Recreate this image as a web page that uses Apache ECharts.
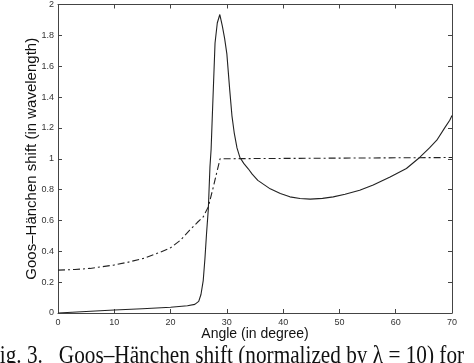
<!DOCTYPE html>
<html><head><meta charset="utf-8">
<script src="https://cdn.jsdelivr.net/npm/echarts@6/dist/echarts.min.js"></script>
<style>html,body{margin:0;padding:0;background:#fff}#c{width:474px;height:363px}</style>
</head><body><div id="c"></div>
<script>
const xTicks = [0,10,20,30,40,50,60,70];
const yTicks = [0,0.2,0.4,0.6,0.8,1,1.2,1.4,1.6,1.8,2];
const solidAngle = [0,5,10,15,20,23,24.3,25,25.4,25.8,26.1,26.4,26.7,27,27.2,27.4,27.9,28.3,28.75,29.2,29.6,30,30.5,30.9,31.3,31.8,32.3,33,33.8,34.5,35.5,37.7,39.5,41.2,43,44.8,47,48.9,51,53.6,56,59,61.9,64.3,66,67.3,68.7,69.6,70];
const solidShift = [0,0.01,0.019,0.028,0.037,0.047,0.056,0.075,0.12,0.21,0.35,0.52,0.67,0.95,1.06,1.26,1.75,1.88,1.935,1.86,1.78,1.68,1.45,1.28,1.17,1.07,1.01,0.97,0.935,0.9,0.86,0.805,0.775,0.753,0.742,0.738,0.743,0.753,0.77,0.796,0.83,0.882,0.937,1.01,1.07,1.12,1.2,1.25,1.28];
const dashAngle = [0,3,5.7,9.8,12.5,15.2,17.5,19.9,21.7,23.4,24.7,25.8,26.7,27.6,28.2,28.8,29,70];
const dashShift = [0.278,0.282,0.289,0.31,0.33,0.354,0.385,0.42,0.47,0.537,0.585,0.623,0.688,0.817,0.91,1.0,1.008,1.008];
const xName = 'Angle (in degree)';
const yName = 'Goos–Hänchen shift (in wavelength)';
const caption = 'Fig. 3.   Goos–Hänchen shift (normalized by λ = 10) for';

const zip = (a,b) => a.map((v,i)=>[v,b[i]]);
const frame = '#444';
const sans = 'Liberation Sans, Arial, sans-serif';
const lbl = {fontFamily:sans, fontSize:9, color:'#333'};
function xa(pos, show){
  return {type:'value', position:pos, min:0, max:70, interval:10,
    axisLine:{show:true, onZero:false, lineStyle:{color:frame,width:1}},
    axisTick:{show:true, inside:true, length:4, lineStyle:{color:frame}},
    axisLabel:Object.assign({show:show, margin:5}, lbl),
    splitLine:{show:false},
    name: show ? xName : '', nameLocation:'middle', nameGap:14, nameMoveOverlap:false,
    nameTextStyle:{fontFamily:sans, fontSize:14, color:'#111', verticalAlign:'top'}};
}
function ya(pos, show){
  return {type:'value', position:pos, min:0, max:2, interval:0.2,
    axisLine:{show:true, onZero:false, lineStyle:{color:frame,width:1}},
    axisTick:{show:true, inside:true, length:4, lineStyle:{color:frame}},
    axisLabel:Object.assign({show:show, margin:4, formatter:v=>String(+v.toFixed(1))}, lbl),
    splitLine:{show:false},
    name: show ? yName : '', nameLocation:'middle', nameGap:19, nameMoveOverlap:false,
    nameTextStyle:{fontFamily:sans, fontSize:15, color:'#111'}};
}
const chart = echarts.init(document.getElementById('c'), null, {renderer:'canvas'});
chart.setOption({
  animation:false,
  backgroundColor:'#fff',
  grid:{left:58, right:22, top:4, bottom:50},
  xAxis:[xa('bottom',true), xa('top',false)],
  yAxis:[ya('left',true), ya('right',false)],
  series:[
    {type:'line', data:zip(solidAngle, solidShift), showSymbol:false, smooth:false,
     lineStyle:{color:'#222', width:1.1}},
    {type:'line', data:zip(dashAngle, dashShift), showSymbol:false, smooth:false,
     lineStyle:{color:'#222', width:1.1, type:[7,3,2,3]}}
  ],
  graphic:[{type:'text', x:-12, y:344, scaleX:0.85,
    style:{text:caption, font:'25px "Liberation Serif", "DejaVu Serif", serif', fill:'#111', verticalAlign:'top'}}]
});
</script></body></html>
